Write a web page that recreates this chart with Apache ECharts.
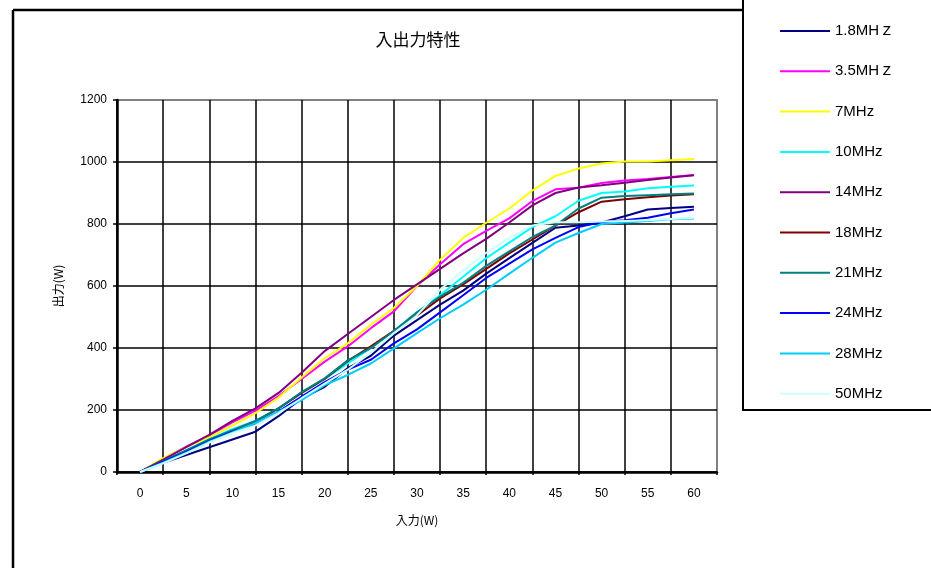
<!DOCTYPE html>
<html>
<head>
<meta charset="utf-8">
<script src="https://cdn.jsdelivr.net/npm/echarts@6/dist/echarts.min.js"></script>
<style>
    html, body { margin: 0; padding: 0; background: #fff; }
    #chart { width: 931px; height: 568px; }
</style>
</head>
<body>
<div id="chart"></div>
<script>
// 入力 (W) sample points
const inputW = [0, 2.5, 5, 7.5, 10, 12.5, 15, 17.5, 20, 22.5, 25, 27.5, 30,
    32.5, 35, 37.5, 40, 42.5, 45, 47.5, 50, 52.5, 55, 57.5, 60];
const xLabels = ["0", "5", "10", "15", "20", "25", "30", "35", "40", "45", "50", "55", "60"];

// 出力 (W) per band
const mhz1_8 = [0, 30, 55, 80, 105, 130, 180, 237, 275, 335, 375, 440, 490, 540, 585, 640, 690, 739, 788, 795, 805, 825, 847, 852, 856];
const mhz3_5 = [0, 42, 82, 118, 160, 198, 245, 300, 356, 405, 464, 518, 600, 670, 735, 778, 818, 874, 912, 917, 932, 940, 945, 952, 958];
const mhz7 = [0, 45, 80, 112, 150, 190, 240, 305, 367, 415, 475, 529, 600, 685, 755, 804, 850, 908, 955, 979, 995, 1002, 1002, 1006, 1010];
const mhz10 = [0, 35, 70, 105, 138, 165, 205, 255, 300, 350, 400, 455, 515, 570, 630, 690, 740, 790, 825, 875, 900, 905, 915, 920, 924];
const mhz14 = [0, 40, 80, 120, 165, 205, 255, 320, 390, 445, 500, 555, 605, 655, 705, 752, 805, 860, 900, 918, 925, 933, 942, 950, 957];
const mhz18 = [0, 35, 68, 102, 132, 162, 205, 255, 300, 358, 405, 455, 505, 560, 605, 655, 705, 750, 795, 838, 872, 880, 886, 892, 896];
const mhz21 = [0, 35, 70, 105, 135, 165, 205, 258, 302, 360, 400, 455, 515, 566, 610, 665, 712, 758, 795, 850, 885, 890, 893, 896, 898];
const mhz24 = [0, 33, 65, 100, 130, 155, 195, 243, 290, 330, 362, 415, 460, 515, 570, 626, 672, 718, 755, 790, 806, 812, 820, 835, 847];
const mhz28 = [0, 30, 62, 98, 128, 158, 195, 232, 280, 313, 350, 399, 448, 496, 540, 588, 640, 691, 740, 771, 800, 805, 810, 815, 818];
const mhz50 = [0, 28, 60, 95, 125, 150, 190, 238, 285, 330, 385, 448, 505, 588, 650, 707, 755, 795, 806, 806, 808, 810, 812, 816, 820];

const bands = [
    { name: "1.8MHｚ", data: mhz1_8, color: "#000080" },
    { name: "3.5MHｚ", data: mhz3_5, color: "#ff00ff" },
    { name: "7MHz", data: mhz7, color: "#ffff00" },
    { name: "10MHz", data: mhz10, color: "#00ffff" },
    { name: "14MHz", data: mhz14, color: "#800080" },
    { name: "18MHz", data: mhz18, color: "#800000" },
    { name: "21MHz", data: mhz21, color: "#008080" },
    { name: "24MHz", data: mhz24, color: "#0000ff" },
    { name: "28MHz", data: mhz28, color: "#00ccff" },
    { name: "50MHz", data: mhz50, color: "#ccffff" },
];

const chart = echarts.init(document.getElementById("chart"));
const baseFont = "'Liberation Sans', 'Noto Sans CJK JP', sans-serif";
const cjkFont = "'Noto Sans CJK JP', sans-serif";

const option = {
    animation: false,
    backgroundColor: "#fff",
    textStyle: { fontFamily: baseFont },
    title: {
        text: "入出力特性",
        left: 413,
        top: 26,
        textAlign: "center",
        textStyle: { fontSize: 17, fontWeight: "normal", color: "#000", fontFamily: cjkFont },
    },
    legend: {
        orient: "vertical",
        left: 774,
        top: 18,
        itemWidth: 50,
        itemHeight: 16,
        itemGap: 24.3,
        // hide the symbol so only the line shows
        itemStyle: { opacity: 0 },
        textStyle: { fontSize: 15, color: "#000", lineHeight: 16, fontFamily: baseFont },
        data: bands.map((b) => b.name),
    },
    grid: { left: 117, right: 214, top: 100, bottom: 96, show: true, borderColor: "#808080", borderWidth: 2 },
    xAxis: [
        {
            type: "category",
            data: xLabels,
            boundaryGap: true,
            name: "入力(W)",
            nameLocation: "middle",
            nameGap: 42,
            nameTextStyle: { fontSize: 12, color: "#000", fontFamily: cjkFont },
            axisLine: { lineStyle: { color: "#000", width: 2.5 } },
            axisTick: { show: true, length: 3, lineStyle: { color: "#000", width: 1.5 } },
            axisLabel: { fontSize: 12, color: "#000", margin: 16 },
            splitLine: { show: true, showMaxLine: false, lineStyle: { color: "#000", width: 1.5 } },
        },
        {
            type: "value",
            min: -2.5,
            max: 62.5,
            show: false,
        },
    ],
    yAxis: {
        type: "value",
        min: 0,
        max: 1200,
        interval: 200,
        name: "出力(W)",
        nameLocation: "middle",
        nameGap: 53,
        nameTextStyle: { fontSize: 12, color: "#000", fontFamily: cjkFont },
        axisLine: { show: true, onZero: false, lineStyle: { color: "#000", width: 2.5 } },
        axisTick: { show: true, length: 4, lineStyle: { color: "#000", width: 1.5 } },
        axisLabel: { fontSize: 12, color: "#000", margin: 10, formatter: (v) => String(v) },
        splitLine: { show: true, showMaxLine: false, lineStyle: { color: "#000", width: 1.5 } },
    },
    graphic: [
        // outer chart border (left + top)
        { type: "line", shape: { x1: 13, y1: 10, x2: 13, y2: 570 }, style: { stroke: "#000", lineWidth: 2.5 } },
        { type: "line", shape: { x1: 13, y1: 10, x2: 744, y2: 10 }, style: { stroke: "#000", lineWidth: 2.5 } },
        // legend box
        { type: "rect", shape: { x: 743, y: -3, width: 192, height: 413 }, style: { fill: "none", stroke: "#000", lineWidth: 2 } },
    ],
    series: bands.map((b) => ({
        name: b.name,
        type: "line",
        xAxisIndex: 1,
        symbol: "none",
        color: b.color,
        lineStyle: { color: b.color, width: 2 },
        data: inputW.map((x, i) => [x, b.data[i]]),
    })),
};

chart.setOption(option);
</script>
</body>
</html>
